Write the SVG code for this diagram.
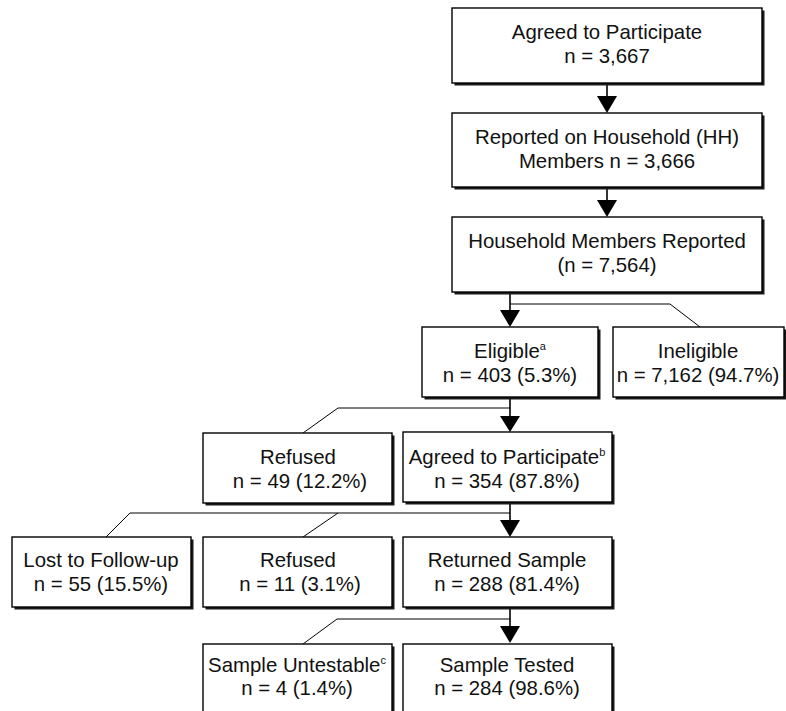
<svg xmlns="http://www.w3.org/2000/svg" width="786" height="711" viewBox="0 0 786 711">
<defs>
<style>
.sh{fill:#1a1a1a;}
.bx{fill:#fff;stroke:#000;stroke-width:1.4;}
.t{font-family:"Liberation Sans",Arial,sans-serif;font-size:20.4px;fill:#111;text-anchor:middle;}
.sup{font-size:11px;}
.ln{fill:none;stroke:#000;stroke-width:1.6;}
.br{fill:none;stroke:#000;stroke-width:1;}
.ah{fill:#000;}
</style>
</defs>
<rect width="786" height="711" fill="#fff"/>
<g id="connectors">
<line class="ln" x1="607" y1="83" x2="607" y2="97"/>
<polygon class="ah" points="597,96 617,96 607,113"/>
<line class="ln" x1="607" y1="187" x2="607" y2="201"/>
<polygon class="ah" points="597,200 617,200 607,217"/>
<line class="ln" x1="510" y1="292" x2="510" y2="311"/>
<polygon class="ah" points="500,310 520,310 510,327"/>
<polyline class="br" points="510,304 670,304 700,327"/>
<line class="ln" x1="510" y1="397" x2="510" y2="417"/>
<polygon class="ah" points="500,416 520,416 510,432"/>
<polyline class="br" points="510,408 338,408 303,433"/>
<line class="ln" x1="510" y1="502" x2="510" y2="521"/>
<polygon class="ah" points="500,520 520,520 510,537"/>
<polyline class="br" points="510,513 130,513 106,537"/>
<polyline class="br" points="338,513 303,537"/>
<line class="ln" x1="510" y1="607" x2="510" y2="627"/>
<polygon class="ah" points="500,626 520,626 510,643"/>
<polyline class="br" points="510,619 337,619 303,644"/>
</g>
<g id="n1">
<rect class="sh" x="454.5" y="10.5" width="310" height="75"/>
<rect class="bx" x="452" y="8" width="310" height="75"/>
<text class="t" x="607" y="39">Agreed to Participate</text>
<text class="t" x="607" y="63">n = 3,667</text>
</g>
<g id="n2">
<rect class="sh" x="454.5" y="115.5" width="310" height="74"/>
<rect class="bx" x="452" y="113" width="310" height="74"/>
<text class="t" x="607" y="144">Reported on Household (HH)</text>
<text class="t" x="607" y="168">Members n = 3,666</text>
</g>
<g id="n3">
<rect class="sh" x="454.5" y="219.5" width="310" height="75"/>
<rect class="bx" x="452" y="217" width="310" height="75"/>
<text class="t" x="607" y="248">Household Members Reported</text>
<text class="t" x="607" y="272">(n = 7,564)</text>
</g>
<g id="n4">
<rect class="sh" x="424.5" y="329.5" width="176" height="70"/>
<rect class="bx" x="422" y="327" width="176" height="70"/>
<text class="t" x="510" y="358">Eligible<tspan class="sup" dy="-8">a</tspan></text>
<text class="t" x="510" y="382" dy="0">n = 403 (5.3%)</text>
</g>
<g id="n5">
<rect class="sh" x="615.5" y="329.5" width="171" height="70"/>
<rect class="bx" x="613" y="327" width="171" height="70"/>
<text class="t" x="698" y="358">Ineligible</text>
<text class="t" x="698" y="382">n = 7,162 (94.7%)</text>
</g>
<g id="n6">
<rect class="sh" x="205.5" y="435.5" width="189" height="70"/>
<rect class="bx" x="203" y="433" width="189" height="70"/>
<text class="t" x="298" y="464">Refused</text>
<text class="t" x="300" y="488">n = 49 (12.2%)</text>
</g>
<g id="n7">
<rect class="sh" x="405.5" y="434.5" width="209" height="70"/>
<rect class="bx" x="403" y="432" width="209" height="70"/>
<text class="t" x="507" y="464">Agreed to Participate<tspan class="sup" dy="-8">b</tspan></text>
<text class="t" x="507" y="488">n = 354 (87.8%)</text>
</g>
<g id="n8">
<rect class="sh" x="14.5" y="539.5" width="179" height="70"/>
<rect class="bx" x="12" y="537" width="179" height="70"/>
<text class="t" x="101" y="567">Lost to Follow-up</text>
<text class="t" x="101" y="591">n = 55 (15.5%)</text>
</g>
<g id="n9">
<rect class="sh" x="205.5" y="539.5" width="189" height="70"/>
<rect class="bx" x="203" y="537" width="189" height="70"/>
<text class="t" x="298" y="567">Refused</text>
<text class="t" x="300" y="591">n = 11 (3.1%)</text>
</g>
<g id="n10">
<rect class="sh" x="405.5" y="539.5" width="209" height="70"/>
<rect class="bx" x="403" y="537" width="209" height="70"/>
<text class="t" x="507" y="567">Returned Sample</text>
<text class="t" x="507" y="591">n = 288 (81.4%)</text>
</g>
<g id="n11">
<rect class="sh" x="205.5" y="646.5" width="189" height="75"/>
<rect class="bx" x="203" y="644" width="189" height="75"/>
<text class="t" x="297" y="672">Sample Untestable<tspan class="sup" dy="-8">c</tspan></text>
<text class="t" x="297" y="695">n = 4 (1.4%)</text>
</g>
<g id="n12">
<rect class="sh" x="405.5" y="646.5" width="209" height="75"/>
<rect class="bx" x="403" y="644" width="209" height="75"/>
<text class="t" x="507" y="672">Sample Tested</text>
<text class="t" x="507" y="695">n = 284 (98.6%)</text>
</g>
</svg>
